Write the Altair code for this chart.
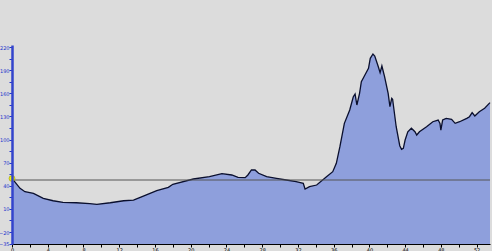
import altair as alt
import pandas as pd

xs = [0.0, 0.9, 1.45, 2.4, 3.5, 4.6, 5.7, 7.2, 8.7, 9.5, 11.0, 12.5, 13.6, 14.7, 16.2, 17.5,
      18.0, 20.3, 22.1, 23.5, 24.6, 25.3, 26.1, 26.4, 26.8, 27.2, 27.6, 28.5, 29.6, 30.7, 31.8,
      32.6, 32.8, 33.3, 34.1, 35.2, 35.9, 36.3, 36.7, 37.2, 37.8, 38.2, 38.4, 38.6, 38.9, 39.1,
      39.5, 39.9, 40.1, 40.4, 40.6, 41.0, 41.2, 41.4, 41.7, 42.1, 42.3, 42.5, 42.6, 43.0, 43.4,
      43.6, 43.8, 44.0, 44.3, 44.7, 45.1, 45.3, 45.6, 46.4, 47.1, 47.7, 47.9, 48.0, 48.2, 48.6,
      49.2, 49.6, 50.1, 50.9, 51.2, 51.5, 51.8, 52.3, 52.9, 53.5]
ys = [49.5, 36.7, 32.3, 30.2, 23.8, 20.6, 18.6, 18.0, 16.8, 16.0, 18.0, 20.6, 21.4, 26.7, 33.6, 38.0,
      41.9, 48.8, 51.8, 55.7, 54.0, 51.0, 50.5, 54.0, 60.5, 60.5, 56.2, 51.8, 49.7, 47.5, 45.3,
      43.2, 35.8, 38.8, 41.0, 51.8, 58.3, 69.2, 90.7, 121.0, 138.3, 155.5, 159.0, 144.8, 159.9, 175.0,
      183.7, 192.4, 205.3, 210.9, 208.3, 194.4, 186.7, 195.4, 181.5, 159.9, 142.6, 153.5, 152.2, 116.6, 92.0,
      87.3, 88.6, 99.4, 110.1, 114.6, 110.1, 105.9, 110.1, 116.6, 123.1, 125.3, 121.0, 112.3, 125.3, 127.5,
      126.2, 121.0, 123.1, 127.5, 129.6, 134.8, 130.5, 136.1, 140.5, 147.8]

y_ticks = [-35, -20, -5, 10, 25, 40, 55, 70, 85, 100, 115, 130, 145, 160, 175, 190, 205, 220]
y_labels = [-35, -20, 10, 40, 70, 100, 130, 160, 190, 220]
x_ticks = list(range(0, 53, 2))
ref_value = 47.5
marker_x = [0.0]
marker_y = [49.5]
y_min, y_max = -35.5, 222.6

df = pd.DataFrame({"x": xs, "y": ys})
xscale = alt.Scale(domain=[0, 53.5], nice=False, zero=False)
yscale = alt.Scale(domain=[y_min, y_max], nice=False, zero=False)

label_expr_y = "indexof([" + ",".join(str(v) for v in y_labels) + "], datum.value) >= 0 ? datum.label : ''"

xaxis = alt.Axis(
    values=x_ticks, title=None, labelExpr="datum.value % 4 == 0 ? datum.label : ''",
    labelFontSize=5, labelColor="#000000", labelPadding=0, tickSize=3, tickColor="#000000",
    labelOverlap=False, labelFlush=False, zindex=1,
    domainColor="#000000", domainWidth=1, grid=False, labelFont="DejaVu Sans")
yaxis = alt.Axis(
    values=y_ticks, title=None, labelExpr=label_expr_y,
    labelFontSize=5, labelColor="#2233cc", labelPadding=0, tickSize=3, tickColor="#2233cc",
    labelOverlap=False, labelFlush=False, zindex=1,
    domainColor="#3344cc", domainWidth=2.5, grid=False, labelFont="DejaVu Sans")

area = alt.Chart(df).mark_area(
    color="#8e9fdc", opacity=1, line={"color": "#0a0f2e", "strokeWidth": 1.3}, interpolate="linear"
).encode(
    x=alt.X("x:Q", scale=xscale, axis=xaxis),
    y=alt.Y("y:Q", scale=yscale, axis=yaxis),
    y2=alt.datum(y_min),
)

rule = alt.Chart(pd.DataFrame({"y": [ref_value]})).mark_rule(color="#555555", strokeWidth=1).encode(
    y=alt.Y("y:Q", scale=yscale, axis=yaxis)
)

pt = alt.Chart(pd.DataFrame({"x": marker_x, "y": marker_y})).mark_point(
    filled=True, color="#f2f20a", size=35, opacity=1, stroke="#888800", strokeWidth=0.5
).encode(x=alt.X("x:Q", scale=xscale, axis=xaxis), y=alt.Y("y:Q", scale=yscale, axis=yaxis))

chart = alt.layer(area, rule, pt).properties(
    width=478, height=199,
    autosize=alt.AutoSizeParams(type="none"),
    padding={"left": 12, "top": 45, "right": 2, "bottom": 7},
    background="#dcdcdc",
).configure_view(fill="#dcdcdc", stroke=None)

chart.save("out.html", embed_options={"renderer": "svg", "actions": False})
